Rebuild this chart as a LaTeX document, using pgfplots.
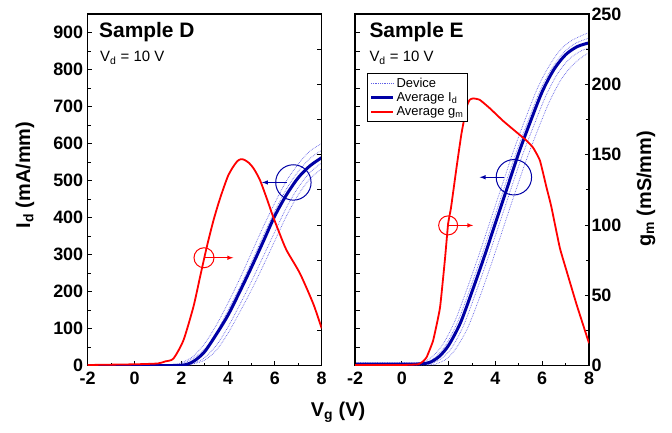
\documentclass[border=0pt]{standalone}
\usepackage{pgfplots}
\pgfplotsset{compat=1.18}
\usepackage{fontspec}
\setmainfont{Liberation Sans}
\definecolor{navyb}{RGB}{0,0,165}
\definecolor{devb}{RGB}{95,95,230}

\pgfplotsset{
  base/.style={scale only axis, width=234bp, height=351.7bp, xmin=-2, xmax=8,
    axis line style={line width=1.2bp},
    every tick/.style={black, line width=1bp},
    major tick length=4.5bp, minor tick length=3bp,
    /pgf/number format/assume math mode=true,
    ticklabel style={font=\fontsize{18}{18}\selectfont\bfseries},
    xticklabel style={yshift=-3bp},
    yticklabel style={xshift=-1bp},
    xtick={-2,0,2,4,6,8}, xticklabels={-2,0,2,4,6,8},
    minor xtick={-1,1,3,5,7},
    xtick pos=bottom,
  },
  idaxis/.style={base, ymin=0, ymax=950, ytick pos=left, tick align=inside},
  gmaxis/.style={base, ymin=0, ymax=250, hide x axis, ytick pos=right, tick align=inside},
  dev/.style={devb, densely dotted, line width=0.7bp, smooth, tension=0.5},
  avg/.style={navyb, line width=3bp, smooth, tension=0.5},
  gmline/.style={red, line width=1.8bp, smooth, tension=0.4},
}

\begin{document}
\begin{tikzpicture}
\path[use as bounding box] (0,0) rectangle (672bp,433bp);

% ---------------- Sample D : Id ----------------
\begin{axis}[idaxis, at={(87.7bp,67.3bp)}, anchor=south west,
  ytick={0,100,...,900}, minor ytick={50,150,...,950}]
\addplot[dev] coordinates {(-2,0) (1.2,0.5) (1.7,3) (2,8) (2.5,25) (3,60) (3.5,110) (4,170) (4.5,235) (5,305) (5.5,375) (6,440) (6.5,500) (7,545) (7.5,580) (8,600)};
\addplot[dev] coordinates {(-2,0) (1.4,0.5) (2,5) (2.5,20) (3,45) (3.5,90) (4,150) (4.5,212) (5,280) (5.5,350) (6,418) (6.5,478) (7,525) (7.5,560) (8,582)};
\addplot[dev] coordinates {(-2,0) (1.8,0.5) (2.2,2) (2.6,8) (3,22) (3.5,55) (4,105) (4.5,165) (5,228) (5.5,295) (6,362) (6.5,428) (7,482) (7.5,522) (8,548)};
\addplot[dev] coordinates {(-2,0) (2,0.5) (2.5,5) (3,15) (3.5,42) (4,88) (4.5,145) (5,205) (5.5,270) (6,338) (6.5,405) (7,462) (7.5,505) (8,532)};
\addplot[avg] coordinates {(-2,0) (0,0) (1.5,0.5) (2,1) (2.3,5) (2.6,15) (3,38) (3.5,85) (4,137) (4.5,200) (5,266) (5.5,335) (6,405) (6.5,462) (7,508) (7.5,540) (8,562)};
\draw[navyb, line width=1bp] (axis cs:6.79,495) circle[radius=17.7bp];
\draw[navyb, line width=1bp, -latex] (axis cs:6.5,495) -- (axis cs:5.45,495);
\draw[red, line width=1bp] (axis cs:2.97,291.6) circle[radius=10bp];
\draw[red, line width=1bp, -latex] (axis cs:2.97,291.6) -- (axis cs:4.22,291.6);
\end{axis}

% ---------------- Sample D : gm ----------------
\begin{axis}[gmaxis, at={(87.7bp,67.3bp)}, anchor=south west,
  ytick={0,25,...,250}, yticklabels={}]
\addplot[gmline] coordinates {(-2,0.5) (0,1) (1,1.6) (1.3,3) (1.66,5) (2.09,18) (2.52,42) (2.8,63) (3.09,84.5) (3.37,103) (3.6,116) (3.8,126) (4.0,135) (4.2,141) (4.4,145.5) (4.55,146.8) (4.7,146.3) (4.9,144) (5.1,140) (5.36,132) (5.65,119) (5.9,107) (6.2,94) (6.5,82) (7.07,65.6) (7.64,44) (8,26.5)};
\end{axis}

% ---------------- Sample E : Id ----------------
\begin{axis}[idaxis, at={(355bp,67.3bp)}, anchor=south west,
  ytick={0,50,...,950}, yticklabels={}]
\addplot[dev] coordinates {(-2,8) (0.6,8) (1,12) (1.4,30) (1.8,62) (2.3,125) (2.8,210) (3.3,300) (3.8,395) (4.3,490) (4.8,585) (5.3,670) (5.8,750) (6.3,810) (6.8,855) (7.3,880) (8,900)};
\addplot[dev] coordinates {(-2,6) (0.7,6) (1.1,10) (1.5,27) (1.9,58) (2.4,120) (2.9,205) (3.4,295) (3.9,390) (4.4,485) (4.9,578) (5.4,662) (5.9,742) (6.4,802) (6.9,845) (7.4,870) (8,885)};
\addplot[dev] coordinates {(-2,3) (1,3) (1.35,8) (1.75,22) (2.15,50) (2.65,110) (3.15,195) (3.65,285) (4.15,380) (4.65,475) (5.15,568) (5.65,650) (6.15,728) (6.65,788) (7.15,828) (7.65,850) (8,858)};
\addplot[dev] coordinates {(-2,2) (1.1,2) (1.5,6) (1.9,18) (2.3,45) (2.8,100) (3.3,180) (3.8,270) (4.3,365) (4.8,460) (5.3,552) (5.8,635) (6.3,712) (6.8,772) (7.3,812) (7.8,838) (8,845)};
\addplot[avg] coordinates {(-2,4) (0,4) (0.8,5) (1.2,9) (1.6,25) (2,55) (2.5,115) (3,200) (3.5,290) (4,385) (4.5,480) (5,575) (5.5,660) (6,740) (6.5,800) (7,840) (7.5,862) (8,872)};
\draw[navyb, line width=1bp] (axis cs:4.79,509) circle[radius=17.7bp];
\draw[navyb, line width=1bp, -latex] (axis cs:4.35,509) -- (axis cs:3.33,509);
\draw[red, line width=1bp] (axis cs:1.98,379) circle[radius=9.5bp];
\draw[red, line width=1bp, -latex] (axis cs:1.98,379) -- (axis cs:3.05,379);
\end{axis}

% ---------------- Sample E : gm ----------------
\begin{axis}[gmaxis, at={(355bp,67.3bp)}, anchor=south west,
  ytick={0,50,...,250}, minor ytick={25,75,...,225},
  legend style={at={(0.0525,0.831)}, anchor=north west, draw=black, line width=0.6bp,
    font=\fontsize{13}{14}\selectfont, inner sep=2bp, row sep=0bp},
  legend cell align=left,
  legend image code/.code={\draw[#1] (0bp,0bp) -- (22bp,0bp);}]
\addlegendimage{devb, densely dotted, line width=0.8bp}
\addlegendentry{Device}
\addlegendimage{navyb, line width=3bp}
\addlegendentry{Average I\textsubscript{d}}
\addplot[gmline, tension=0.25] coordinates {(-2,0.5) (0,0.5) (0.7,1) (0.9,3) (1.06,6) (1.34,18) (1.63,41) (1.84,75) (1.98,101) (2.1,112) (2.34,141) (2.55,165) (2.77,184) (2.9,189) (3.05,190) (3.33,189) (3.76,183) (4.33,174) (4.9,166) (5.33,160) (5.61,155) (5.9,146) (6.18,127) (6.39,113) (6.75,84) (7.03,68) (7.46,44) (8,16)};
\addlegendentry{Average g\textsubscript{m}}
\end{axis}

% ---------------- texts ----------------
\node[anchor=base west, inner sep=0, font=\fontsize{21}{21}\selectfont\bfseries] at (99bp,395.3bp) {Sample D};
\node[anchor=base west, inner sep=0, font=\fontsize{21}{21}\selectfont\bfseries] at (369.3bp,395.3bp) {Sample E};
\node[anchor=base west, inner sep=0, font=\fontsize{15}{15}\selectfont] at (100bp,371.3bp) {V\textsubscript{d} = 10 V};
\node[anchor=base west, inner sep=0, font=\fontsize{15}{15}\selectfont] at (369.3bp,371.3bp) {V\textsubscript{d} = 10 V};
\node[rotate=90, inner sep=0, font=\fontsize{20}{20}\selectfont\bfseries] at (25bp,258bp) {I\textsubscript{d} (mA/mm)};
\node[rotate=90, inner sep=0, font=\fontsize{20}{20}\selectfont\bfseries] at (646bp,244bp) {g\textsubscript{m} (mS/mm)};
\node[inner sep=0, font=\fontsize{20}{20}\selectfont\bfseries] at (338bp,21bp) {V\textsubscript{g} (V)};
\end{tikzpicture}
\end{document}
